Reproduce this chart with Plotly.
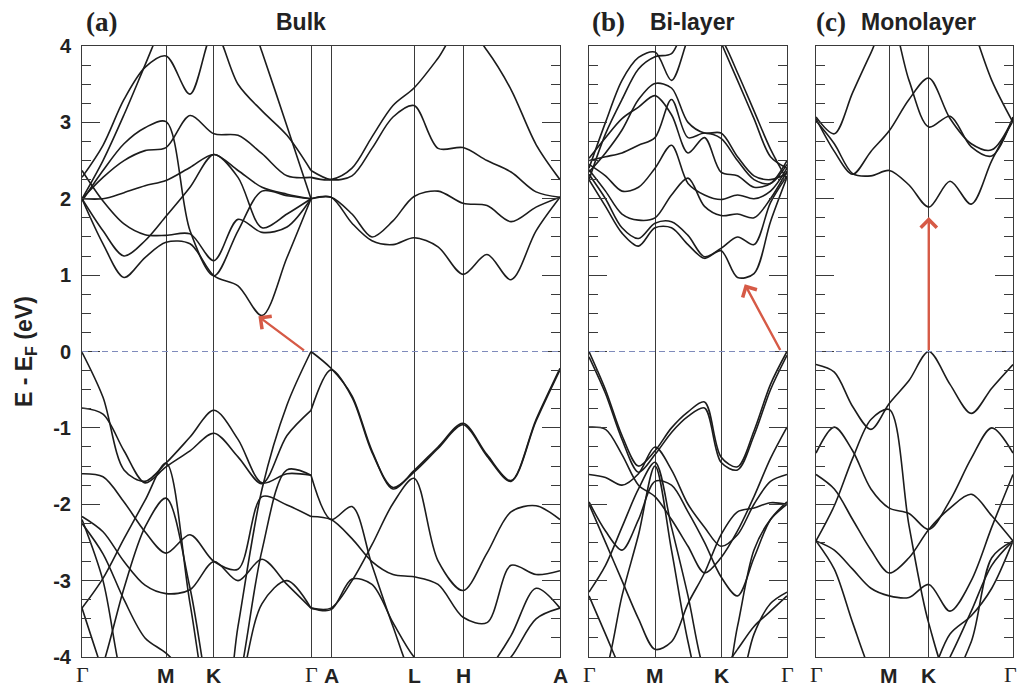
import plotly.graph_objects as go

# ---------------- band energies (eV, relative to E_F) ----------------
# Bulk, in-plane path Γ-M-K-Γ
bulk_k_in = [0.0, 0.25, 0.5, 0.75, 1.0, 1.286, 1.571, 1.857, 2.143, 2.44, 2.726]
bulk_bands_in = [
    [2.00, 1.41, 0.97, 1.23, 1.43, 1.41, 0.99, 0.86, 0.47, 1.23, 2.00],
    [1.97, 2.37, 2.72, 2.93, 3.01, 1.58, 0.99, 1.58, 2.10, 2.04, 2.00],
    [2.37, 1.97, 1.67, 1.53, 1.52, 1.54, 1.19, 1.73, 1.56, 1.63, 2.00],
    [2.00, 1.58, 1.25, 1.45, 1.77, 2.15, 2.58, 2.28, 1.62, 1.80, 2.00],
    [2.00, 2.00, 2.08, 2.17, 2.24, 2.41, 2.58, 2.37, 2.15, 2.06, 2.00],
    [2.00, 2.28, 2.50, 2.63, 2.67, 3.09, 2.85, 2.83, 2.59, 2.30, 2.28],
    [2.28, 2.70, 3.30, 3.72, 3.87, 3.37, 4.20, 3.50, 3.15, 2.83, 2.37],
    [2.00, 2.50, 3.10, 3.75, 4.40, 5.00, 5.20, 4.80, 3.92, 2.95, 2.00],
    [-0.01, -0.60, -1.55, -1.70, -1.46, -1.12, -0.77, -1.15, -1.72, -1.60, -1.62],
    [-0.74, -0.82, -1.30, -1.72, -1.51, -1.30, -1.07, -1.38, -1.73, -1.10, -0.77],
    [-1.60, -1.64, -1.97, -2.36, -2.64, -2.40, -2.75, -2.85, -1.90, -2.01, -2.16],
    [-2.16, -2.36, -2.75, -3.06, -3.17, -3.12, -2.75, -3.00, -2.72, -3.05, -3.36],
    [-3.36, -4.20, -5.00, -5.20, -5.20, -5.20, -5.20, -4.50, -3.30, -3.00, -3.36],
    [-3.36, -2.97, -2.45, -1.95, -1.46, -3.30, -5.00, -5.50, -5.50, -5.00, -4.50],
    [-4.80, -4.10, -3.10, -2.30, -1.92, -3.10, -4.80, -5.50, -5.50, -5.00, -4.50],
    [-4.50, -5.00, -5.50, -5.50, -5.50, -5.50, -5.50, -3.60, -1.80, -0.70, 0.00],
    [-5.00, -5.50, -5.50, -5.50, -5.50, -5.50, -5.50, -4.40, -2.60, -1.55, -1.62],
    [-2.25, -2.65, -3.25, -3.75, -3.95, -4.30, -5.00, -5.00, -5.00, -5.00, -5.00],
    [-2.20, -3.00, -4.40, -5.00, -5.00, -5.00, -5.00, -5.00, -5.00, -5.00, -5.00],
]

# Bulk, path Γ-A-L-H-A
bulk_k_out = [2.726, 2.964, 3.214, 3.452, 3.702, 3.952, 4.238, 4.536, 4.821, 5.107, 5.405, 5.69]
bulk_bands_out = [
    [2.00, 2.02, 1.68, 1.45, 1.40, 1.49, 1.37, 1.01, 1.27, 0.94, 1.58, 2.02],
    [2.00, 2.02, 1.80, 1.50, 1.71, 2.03, 2.10, 1.94, 1.91, 1.70, 1.89, 2.02],
    [2.37, 2.25, 2.30, 2.66, 3.07, 3.22, 2.66, 2.67, 2.50, 2.35, 2.09, 2.02],
    [2.28, 2.25, 2.40, 2.81, 3.22, 3.45, 3.84, 4.30, 3.94, 3.43, 2.71, 2.25],
    [0.00, -0.22, -0.58, -1.30, -1.80, -1.56, -1.25, -0.94, -1.35, -1.69, -0.89, -0.22],
    [-0.77, -0.24, -0.60, -1.32, -1.78, -1.58, -1.27, -0.96, -1.37, -1.70, -0.91, -0.24],
    [-1.62, -2.20, -2.03, -2.80, -3.60, -4.30, -4.60, -4.60, -4.20, -3.72, -3.10, -3.36],
    [-3.36, -3.36, -3.00, -2.53, -1.99, -1.66, -2.74, -3.13, -2.64, -2.10, -2.02, -2.20],
    [-2.16, -2.20, -2.45, -2.75, -2.92, -2.95, -3.05, -3.48, -3.55, -2.80, -2.92, -2.87],
    [-3.36, -3.38, -2.98, -3.05, -3.55, -4.00, -4.30, -4.40, -4.30, -4.00, -3.50, -3.36],
]

# Bi-layer, path Γ-M-K-Γ
bilayer_k = [0.0, 0.25, 0.5, 0.75, 1.0, 1.25, 1.5, 1.75, 2.0, 2.25, 2.5, 2.75, 3.0]
bilayer_bands = [
    [2.25, 1.90, 1.55, 1.38, 1.62, 1.62, 1.40, 1.22, 1.32, 0.97, 1.02, 1.70, 2.28],
    [2.32, 2.00, 1.62, 1.48, 1.68, 1.70, 1.52, 1.24, 1.35, 1.50, 1.40, 1.95, 2.30],
    [2.38, 2.10, 1.80, 1.72, 1.75, 2.05, 2.27, 1.90, 1.78, 1.80, 1.75, 2.00, 2.36],
    [2.45, 2.30, 2.10, 2.15, 2.40, 2.70, 2.20, 2.05, 1.99, 2.05, 2.00, 2.10, 2.40],
    [2.50, 2.55, 2.60, 2.70, 2.80, 3.30, 2.80, 2.86, 2.79, 2.50, 2.25, 2.20, 2.45],
    [2.53, 2.80, 3.05, 3.20, 3.35, 3.10, 2.60, 2.80, 2.35, 2.30, 2.15, 2.20, 2.50],
    [2.25, 2.85, 3.30, 3.70, 3.86, 3.90, 4.30, 4.30, 4.10, 3.65, 3.15, 2.65, 2.25],
    [2.40, 3.00, 3.55, 3.85, 3.92, 3.55, 4.10, 4.60, 4.05, 3.55, 3.05, 2.55, 2.40],
    [2.35, 2.60, 2.90, 3.30, 3.51, 3.45, 3.00, 2.86, 2.86, 2.55, 2.30, 2.25, 2.33],
    [0.00, -0.50, -1.10, -1.50, -1.30, -1.00, -0.79, -0.66, -1.38, -1.51, -1.04, -0.43, 0.00],
    [-0.07, -0.55, -1.15, -1.58, -1.35, -1.06, -0.85, -0.74, -1.45, -1.55, -1.10, -0.50, -0.05],
    [-0.99, -1.02, -1.35, -1.75, -1.90, -2.20, -2.55, -2.90, -2.70, -2.35, -1.90, -1.40, -0.99],
    [-1.61, -1.65, -1.75, -1.60, -1.25, -1.55, -2.00, -2.30, -2.55, -2.40, -2.00, -1.70, -1.61],
    [-1.97, -2.35, -2.60, -2.20, -1.70, -1.75, -2.10, -2.50, -2.95, -3.20, -2.70, -2.20, -1.97],
    [-2.00, -2.50, -3.00, -3.50, -3.90, -3.80, -3.30, -2.90, -2.40, -2.10, -2.05, -1.98, -2.00],
    [-3.15, -2.80, -2.30, -1.80, -1.45, -2.30, -3.20, -4.20, -4.60, -3.60, -2.60, -2.20, -2.00],
    [-3.20, -3.70, -4.20, -4.60, -4.80, -4.80, -4.60, -4.40, -4.20, -3.90, -3.60, -3.40, -3.20],
    [-4.60, -4.20, -3.20, -2.40, -1.50, -2.60, -3.80, -4.60, -4.80, -4.50, -3.70, -3.30, -3.15],
]

# Monolayer, path Γ-M-K-Γ
mono_k = [0.0, 0.25, 0.5, 0.75, 1.0, 1.27, 1.54, 1.83, 2.12, 2.40, 2.69]
mono_bands = [
    [3.02, 2.72, 2.33, 2.30, 2.37, 2.18, 1.89, 2.23, 1.93, 2.50, 3.02],
    [3.05, 2.62, 2.32, 2.62, 2.89, 3.30, 3.58, 3.05, 2.72, 2.64, 3.05],
    [3.07, 2.85, 3.39, 3.91, 4.40, 3.55, 2.94, 3.08, 2.68, 2.56, 3.07],
    [4.60, 5.00, 5.20, 5.20, 5.20, 5.20, 5.20, 5.00, 4.30, 3.55, 3.00],
    [-0.17, -0.27, -0.72, -1.02, -0.68, -0.38, 0.00, -0.43, -0.81, -0.48, -0.17],
    [-1.33, -0.99, -1.30, -1.80, -2.05, -2.12, -2.33, -1.95, -1.40, -1.00, -1.33],
    [-2.48, -2.02, -1.40, -0.89, -0.76, -2.28, -3.56, -4.30, -3.80, -2.70, -2.48],
    [-1.61, -1.80, -2.20, -2.60, -2.90, -2.70, -2.33, -2.05, -1.87, -2.15, -2.48],
    [-2.48, -2.60, -2.85, -3.10, -3.20, -3.22, -3.05, -3.40, -3.00, -2.30, -1.61],
    [-2.48, -2.85, -3.55, -4.20, -4.60, -4.60, -4.50, -4.00, -3.40, -2.80, -2.48],
    [-4.60, -4.60, -4.60, -4.60, -4.60, -4.60, -4.30, -3.70, -3.46, -3.10, -2.48],
]

# High-symmetry points along each path
bulk_sym_k = [0.0, 1.0, 1.571, 2.726, 2.964, 3.952, 4.536, 5.69]
bulk_sym_lbl = ["Γ", "M", "K", "Γ", "A", "L", "H", "A"]
bilayer_sym_k = [0.0, 1.0, 2.0, 3.0]
mono_sym_k = [0.0, 1.0, 1.54, 2.69]
path_lbl = ["Γ", "M", "K", "Γ"]

# Band-gap arrows: (k, E) of tail and head
gap_tail = [(2.66, 0.0), (2.91, 0.0), (1.54, 0.0)]
gap_head = [(2.10, 0.46), (2.36, 0.88), (1.54, 1.76)]

energy_ticks = [-4, -3, -2, -1, 0, 1, 2, 3, 4]
energy_ticktext = ["-4", "-3", "-2", "-1", "0", "1", "2", "3", "4"]

# ---------------- figure ----------------
W, H = 1018, 686
FRAME = "#3a3a3a"
BAND = "#1c1c1c"
ARROW = "#d65a46"

x_domains = [[82 / W, 560 / W], [589 / W, 787 / W], [816 / W, 1013 / W]]
y_domain = [1 - 657 / H, 1 - 46 / H]
x_ranges = [[0, bulk_sym_k[-1]], [0, bilayer_sym_k[-1]], [0, mono_sym_k[-1]]]
sym_sets = [bulk_sym_k, bilayer_sym_k, mono_sym_k]

fig = go.Figure()


def add_bands(k, bands, idx):
    xa = "x" if idx == 1 else f"x{idx}"
    ya = "y" if idx == 1 else f"y{idx}"
    for e in bands:
        fig.add_trace(go.Scatter(
            x=k, y=e, mode="lines", xaxis=xa, yaxis=ya,
            line=dict(color=BAND, width=1.6, shape="spline", smoothing=0.9),
            hoverinfo="skip", showlegend=False))


add_bands(bulk_k_in, bulk_bands_in, 1)
add_bands(bulk_k_out, bulk_bands_out, 1)
add_bands(bilayer_k, bilayer_bands, 2)
add_bands(mono_k, mono_bands, 3)

layout = dict(
    width=W, height=H, margin=dict(l=0, r=0, t=0, b=0, pad=0, autoexpand=False),
    paper_bgcolor="white", plot_bgcolor="white", showlegend=False,
)

for i in range(3):
    n = "" if i == 0 else str(i + 1)
    layout["xaxis" + n] = dict(
        domain=x_domains[i], range=x_ranges[i], anchor="y" + n,
        tickmode="array", tickvals=sym_sets[i], ticks="", showticklabels=False,
        showgrid=True, gridcolor=FRAME, gridwidth=1,
        showline=True, linecolor=FRAME, linewidth=1, mirror=True,
        zeroline=False, fixedrange=True, automargin=False)
    layout["yaxis" + n] = dict(
        domain=y_domain, range=[-4, 4], anchor="x" + n,
        tickmode="array", tickvals=energy_ticks, ticktext=energy_ticktext,
        ticks="inside", ticklen=18, tickwidth=1, tickcolor=FRAME,
        minor=dict(ticks="inside", ticklen=9, tickwidth=1, tickcolor=FRAME,
                   tickmode="linear", tick0=0, dtick=0.25, showgrid=False),
        showline=True, linecolor=FRAME, linewidth=1, mirror="ticks",
        showgrid=False, zeroline=False, showticklabels=(i == 0),
        ticklabelstandoff=6, automargin=False,
        tickfont=dict(family="Liberation Sans", size=20, color="#222", weight="bold"),
        fixedrange=True)

fig.update_layout(**layout)

# Fermi level
for i in range(3):
    n = "" if i == 0 else str(i + 1)
    fig.add_shape(type="line", xref=f"x{n} domain", yref="y" + n,
                  x0=0, x1=1, y0=0, y1=0,
                  line=dict(color="#7f8bbb", width=1, dash="6px,4px"))

# gap arrows
for i in range(3):
    n = "" if i == 0 else str(i + 1)
    fig.add_annotation(
        x=gap_head[i][0], y=gap_head[i][1], ax=gap_tail[i][0], ay=gap_tail[i][1],
        xref="x" + n, yref="y" + n, axref="x" + n, ayref="y" + n,
        text="", showarrow=True, arrowhead=4, arrowsize=1.3, arrowwidth=2.4,
        arrowcolor=ARROW, standoff=0, startstandoff=0)

# k-path labels
serif = dict(family="Liberation Serif", size=22, color="#222")
sans = dict(family="Liberation Sans", size=21, color="#222", weight="bold")
label_sets = [(bulk_sym_k, bulk_sym_lbl), (bilayer_sym_k, path_lbl), (mono_sym_k, path_lbl)]
for i, (ks, lbls) in enumerate(label_sets):
    n = "" if i == 0 else str(i + 1)
    for j, (kv, lb) in enumerate(zip(ks, lbls)):
        shift = -3 if (i == 2 and j == len(ks) - 1) else 0
        fig.add_annotation(x=kv, y=1 - (674 if lb == "Γ" else 675) / H,
                           xref="x" + n, yref="paper",
                           text=lb, showarrow=False, xanchor="center", yanchor="middle",
                           xshift=shift, font=serif if lb == "Γ" else sans)

# panel titles
titles = [("(a)", 101, True), ("Bulk", 301, False),
          ("(b)", 608, True), ("Bi-layer", 692, False),
          ("(c)", 831, True), ("Monolayer", 918, False)]
for txt, px, is_tag in titles:
    f = (dict(family="Liberation Serif", size=27, color="#222", weight="bold") if is_tag
         else dict(family="Liberation Sans", size=23, color="#222", weight="bold"))
    fig.add_annotation(x=px / W, y=1 - 22 / H, xref="paper", yref="paper", text=txt,
                       showarrow=False, xanchor="center", yanchor="middle", font=f)

# energy axis title
fig.add_annotation(x=25 / W, y=1 - 352 / H, xref="paper", yref="paper",
                   text="E - E<sub>F</sub> (eV)", textangle=-90, showarrow=False,
                   xanchor="center", yanchor="middle",
                   font=dict(family="Liberation Sans", size=23, color="#222", weight="bold"))

fig.write_html("out.html")
